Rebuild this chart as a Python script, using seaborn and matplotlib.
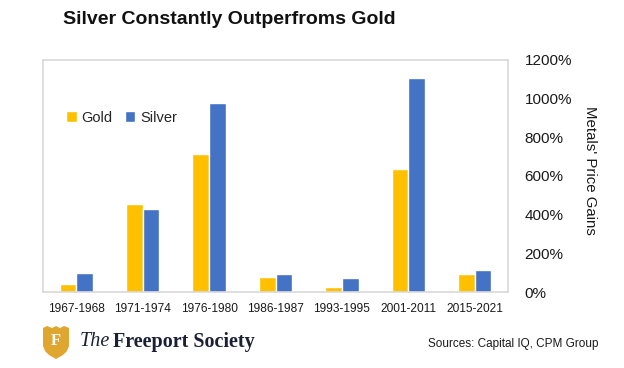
import matplotlib
matplotlib.use("Agg")
import matplotlib.pyplot as plt
import seaborn as sns
import pandas as pd
from matplotlib.patches import Polygon

periods = ["1967-1968", "1971-1974", "1976-1980", "1986-1987", "1993-1995", "2001-2011", "2015-2021"]
gold = [40, 455, 715, 76, 24, 636, 93]
silver = [98, 431, 978, 91, 72, 1109, 112]
metals = ["Gold", "Silver"]
yticks = [0, 200, 400, 600, 800, 1000, 1200]

df = pd.DataFrame({
    "Period": periods * 2,
    "Metal": ["Gold"] * len(periods) + ["Silver"] * len(periods),
    "Gain": gold + silver,
})

sns.set_theme(style="white")
plt.rcParams["font.family"] = ["Liberation Sans", "DejaVu Sans"]

W, H = 624, 368
fig = plt.figure(figsize=(W / 100, H / 100), dpi=100)
ax = fig.add_axes([43 / W, 1 - 292 / H, (508 - 43) / W, (292 - 60) / H])

palette = {"Gold": "#FFC000", "Silver": "#4472C4"}
sns.barplot(data=df, x="Period", y="Gain", hue="Metal", hue_order=metals,
            palette=palette, width=0.5, ax=ax, saturation=1, errorbar=None)

ax.set_ylim(0, 1200)
ax.set_yticks(yticks)
ax.set_yticklabels([f"{v}%" for v in yticks], fontsize=11, color="#1a1a1a")
ax.yaxis.tick_right()
ax.yaxis.set_label_position("right")
ax.set_ylabel("Metals' Price Gains", fontsize=10.8, rotation=-90, color="#1a1a1a",
              va="center", ha="center")
ax.yaxis.set_label_coords((590 - 43) / 465, (292 - 170) / 232)
ax.set_xlabel("")
ax.tick_params(axis="x", labelsize=8.6, length=0, pad=8, colors="#1a1a1a")
ax.tick_params(axis="y", length=0, pad=12)
for s in ax.spines.values():
    s.set_visible(True)
    s.set_color("#D9D9D9")
    s.set_linewidth(1.2)

leg = ax.legend(loc="upper left", bbox_to_anchor=(0.03, 0.82), ncol=2, frameon=False,
                fontsize=10.5, handlelength=0.75, handleheight=0.75, handletextpad=0.3,
                columnspacing=0.85, borderaxespad=0.2)

fig.text(63 / W, 1 - 20 / H, "Silver Constantly Outperfroms Gold", fontsize=14,
         fontweight="bold", va="center", ha="left", color="#111111")

def px(x, y):
    return (x / W, 1 - y / H)

shield = Polygon([px(43, 328), px(47, 326), px(52, 328), px(56, 326), px(60, 328),
                  px(64, 326), px(69, 328), px(69, 346), px(67, 351), px(63, 355),
                  px(56, 359), px(49, 355), px(45, 351), px(43, 346)],
                 closed=True, transform=fig.transFigure, facecolor="#DFA72F",
                 edgecolor="none")
fig.patches.append(shield)
fig.text(56 / W, 1 - 341 / H, "F", fontsize=12, fontweight="bold", color="white",
         ha="center", va="center", family=["Liberation Serif", "DejaVu Serif"])
fig.text(80 / W, 1 - 342 / H, "The", fontsize=14.5, fontstyle="italic", color="#1B2035",
         ha="left", va="center", family=["Liberation Serif", "DejaVu Serif"])
fig.text(113 / W, 1 - 342 / H, "Freeport Society", fontsize=14.5, fontweight="bold",
         color="#1B2035", ha="left", va="center", family=["Liberation Serif", "DejaVu Serif"])
fig.text(598 / W, 1 - 344 / H, "Sources: Capital IQ, CPM Group", fontsize=8.5,
         color="#1a1a1a", ha="right", va="center")

fig.savefig("out.png", dpi=100)
